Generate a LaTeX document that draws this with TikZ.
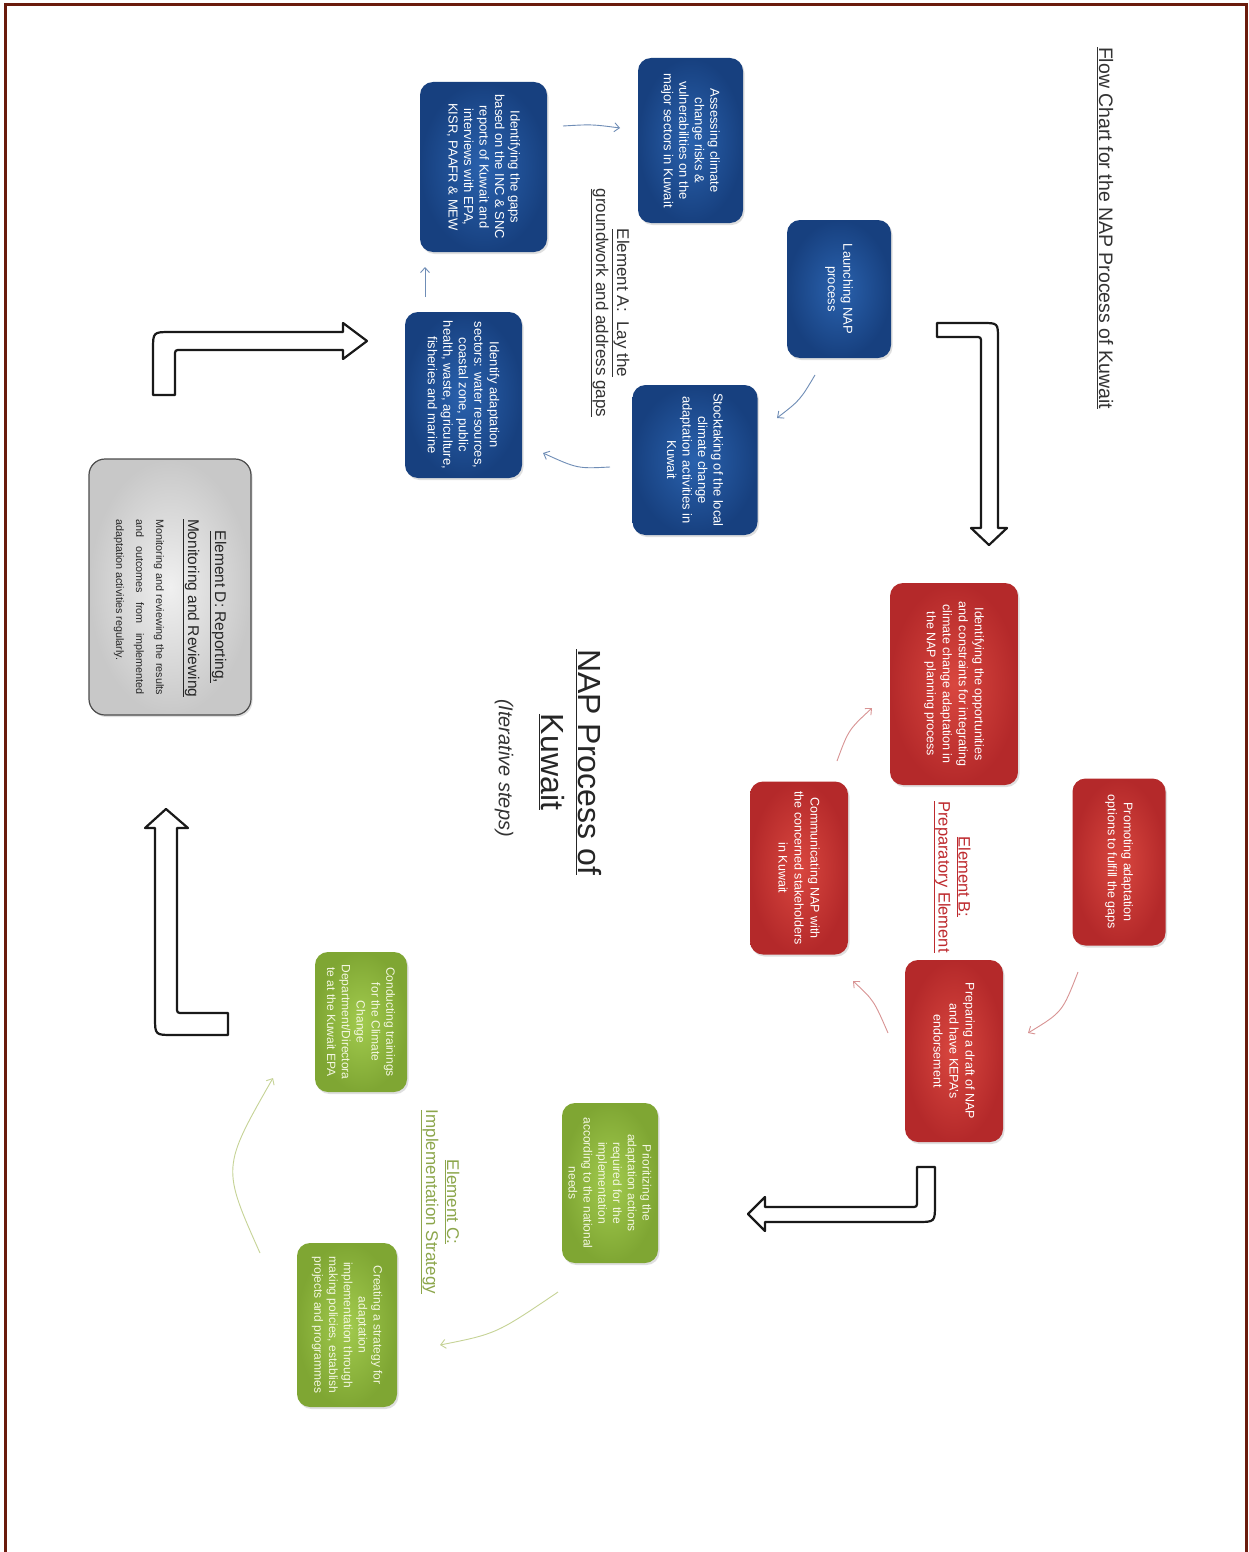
\documentclass[tikz,border=0pt]{standalone}
\usepackage{fontspec}
\setmainfont{Liberation Sans}
\usetikzlibrary{arrows.meta,shadows}
\definecolor{frameC}{HTML}{6A1B0C}
\definecolor{blueL}{HTML}{2A62AE}
\definecolor{blueD}{HTML}{17407F}
\definecolor{redL}{HTML}{D9473F}
\definecolor{redD}{HTML}{B4292A}
\definecolor{grnL}{HTML}{A2CB4E}
\definecolor{grnD}{HTML}{7FA633}
\definecolor{grnT}{HTML}{F4F7E2}
\definecolor{greyL}{HTML}{F0F0F0}
\definecolor{greyD}{HTML}{C8C8C8}
\definecolor{arrBc}{HTML}{6F8DB6}
\definecolor{arrRc}{HTML}{D89393}
\definecolor{arrGc}{HTML}{C6D396}
\definecolor{labAc}{HTML}{333333}
\definecolor{labBc}{HTML}{BE2A2E}
\definecolor{labCc}{HTML}{8CA64B}
\begin{document}
\begin{tikzpicture}[x=1pt,y=-1pt,
  nbox/.style={rotate=-90, rounded corners=13pt, align=center, inner sep=3pt,
    drop shadow={opacity=0.25, shadow xshift=1.5pt, shadow yshift=-2pt}},
  bbox/.style={nbox, inner color=blueL, outer color=blueD, text=white,
    font=\fontsize{13}{15.5}\selectfont},
  rbox/.style={nbox, inner color=redL, outer color=redD, text=white,
    font=\fontsize{12.5}{16}\selectfont},
  gbox/.style={nbox, inner color=grnL, outer color=grnD, text=grnT,
    font=\fontsize{12}{14.8}\selectfont},
  dbox/.style={nbox, rounded corners=16pt, inner color=greyL, outer color=greyD,
    draw=black!70, line width=1.2pt, text=black!85},
  lab/.style={rotate=-90, align=center},
  arrB/.style={draw=arrBc, line width=0.9pt, -{Straight Barb[length=5pt,width=9pt]}},
  arrR/.style={draw=arrRc, line width=0.9pt, -{Straight Barb[length=5pt,width=9pt]}},
  arrG/.style={draw=arrGc, line width=0.9pt, -{Straight Barb[length=5pt,width=9pt]}},
  blockarrow/.style={draw=black!90, line width=2.2pt, fill=white, line join=round},
  frameline/.style={draw=frameC, line width=3pt}
]
\useasboundingbox (0,0) rectangle (1249,1552);
\fill[white] (0,0) rectangle (1249,1552);
\draw[frameline] (5,1552) -- (5,5) -- (1246,5) -- (1246,1552);

% titles
\node[lab, font=\fontsize{19.5}{23}\selectfont, text=black!80] (title) at (1105,228)
  {\underline{Flow Chart for the NAP Process of Kuwait}};
\node[lab, font=\fontsize{32}{37}\selectfont, text=black!85] (main) at (570,762)
  {\underline{NAP Process of}\\\underline{Kuwait}};
\node[lab, font=\itshape\fontsize{20}{24}\selectfont, text=black!80] (iter) at (504,768)
  {(Iterative steps)};

% Element A (blue)
\node[lab, font=\fontsize{17}{21}\selectfont, text=labAc] (labA) at (610,303)
  {\underline{Element A:\ \ Lay the}\\\underline{groundwork and address gaps}};
\node[bbox, minimum width=165, minimum height=105] (assess) at (690.5,140.5)
  {Assessing climate\\change risks \&\\vulnerabilities on the\\major sectors in Kuwait};
\node[bbox, minimum width=138, minimum height=104] (launch) at (839,289)
  {Launching NAP\\process};
\node[bbox, minimum width=150, minimum height=125] (stock) at (695,460)
  {Stocktaking of the local\\climate change\\adaptation activities in\\Kuwait};
\node[bbox, minimum width=166, minimum height=117] (sectors) at (463.5,395)
  {Identify adaptation\\sectors: water resources,\\coastal zone, public\\health, waste, agriculture,\\fisheries and marine};
\node[bbox, minimum width=170, minimum height=127] (gaps) at (483.5,167)
  {Identifying the gaps\\based on the INC \& SNC\\reports of Kuwait and\\interviews with EPA,\\KISR, PAAFR \& MEW};

% Element B (red)
\node[lab, font=\fontsize{16.5}{20}\selectfont, text=labBc] (labB) at (952,877)
  {\underline{Element B:}\\\underline{Preparatory Element}};
\node[rbox, minimum width=202, minimum height=128] (opps) at (954,684)
  {Identifying the opportunities\\and constraints for integrating\\climate change adaptation in\\the NAP planning process};
\node[rbox, minimum width=167, minimum height=93] (promo) at (1119,862)
  {Promoting adaptation\\options to fulfill the gaps};
\node[rbox, minimum width=182, minimum height=98] (draft) at (954,1051)
  {Preparing a draft of NAP\\and have KEPA's\\endorsement};
\node[rbox, minimum width=173, minimum height=98] (comm) at (799,868)
  {Communicating NAP with\\the concerned stakeholders\\in Kuwait};

% Element C (green)
\node[lab, font=\fontsize{17}{21}\selectfont, text=labCc] (labC) at (440,1202)
  {\underline{Element C:}\\\underline{Implementation Strategy}};
\node[gbox, minimum width=160, minimum height=96] (prior) at (610,1183)
  {Prioritizing the\\adaptation actions\\required for the\\implementation\\according to the national\\needs};
\node[gbox, minimum width=164, minimum height=100] (strat) at (347,1325)
  {Creating a strategy for\\adaptation\\implementation through\\making policies, establish\\projects and programmes};
\node[gbox, minimum width=140, minimum height=92] (train) at (361,1022)
  {Conducting trainings\\for the Climate\\Change\\Department/Directora\\te at the Kuwait EPA};

% Element D (grey)
\node[dbox, minimum width=256, minimum height=162] (elD) at (170,587)
  {\hspace*{40pt}\parbox{176pt}{\centering\fontsize{15.5}{27}\selectfont
   \underline{Element D: Reporting,}\\\underline{Monitoring and Reviewing}\par
   \vspace{12pt}\fontsize{10.8}{20}\selectfont
   \makebox[\linewidth][s]{Monitoring and reviewing the results}\\
   \makebox[\linewidth][s]{and outcomes from implemented}\\
   \makebox[\linewidth][l]{adaptation activities regularly.}}};

% small connector end points
\coordinate (a1s) at (815,375);  \coordinate (a1c) at (800,400.2);  \coordinate (a1e) at (777,418);
\coordinate (a2s) at (610,467);  \coordinate (a2c) at (577.5,468.7); \coordinate (a2e) at (543,453);
\coordinate (a3s) at (425,297);  \coordinate (a3e) at (425,267);
\coordinate (a4s) at (563,126);  \coordinate (a4c) at (591.8,124.3); \coordinate (a4e) at (620,128);
\coordinate (r1s) at (1078,972); \coordinate (r1c) at (1062.3,1012.2); \coordinate (r1e) at (1028,1033);
\coordinate (r2s) at (888,1033); \coordinate (r2c) at (873.8,1000.3); \coordinate (r2e) at (853,981);
\coordinate (r3s) at (837,761);  \coordinate (r3c) at (848.5,729.8); \coordinate (r3e) at (872,708);
\coordinate (g1s) at (558,1292); \coordinate (g1c) at (496.3,1333.8); \coordinate (g1e) at (440,1345);
\coordinate (g2s) at (260,1253); \coordinate (g2c) at (221.8,1167.5); \coordinate (g2e) at (273,1078);

\draw[arrB] (a1s) .. controls (a1c) .. (a1e);
\draw[arrB] (a2s) .. controls (a2c) .. (a2e);
\draw[arrB] (a3s) -- (a3e);
\draw[arrB] (a4s) .. controls (a4c) .. (a4e);
\draw[arrR] (r1s) .. controls (r1c) .. (r1e);
\draw[arrR] (r2s) .. controls (r2c) .. (r2e);
\draw[arrR] (r3s) .. controls (r3c) .. (r3e);
\draw[arrG] (g1s) .. controls (g1c) .. (g1e);
\draw[arrG] (g2s) .. controls (g2c) .. (g2e);

% hollow block arrows
\draw[blockarrow] (937,323) -- (982,323) .. controls (998,323) .. (998,339) -- (998,528)
  -- (1007,528) -- (989,545) -- (971,528) -- (981,528) -- (981,343)
  .. controls (981,337) .. (975,337) -- (937,337) -- cycle;
\draw[blockarrow] (917,1167) -- (935,1167) -- (935,1204) .. controls (935,1222) .. (917,1222)
  -- (765,1222) -- (765,1231) -- (748,1214) -- (765,1197) -- (765,1207) -- (911,1207)
  .. controls (917,1207) .. (917,1201) -- cycle;
\draw[blockarrow] (228,1013) -- (228,1035) -- (173,1035) .. controls (155,1035) .. (155,1017)
  -- (155,828) -- (145,828) -- (166,809) -- (188,828) -- (177,828) -- (177,1007)
  .. controls (177,1013) .. (183,1013) -- cycle;
\draw[blockarrow] (153,395) -- (153,350) .. controls (153,332) .. (171,332) -- (343,332)
  -- (343,323) -- (367,341) -- (343,359) -- (343,350) -- (181,350)
  .. controls (175,350) .. (175,356) -- (175,395) -- cycle;
\end{tikzpicture}
\end{document}
